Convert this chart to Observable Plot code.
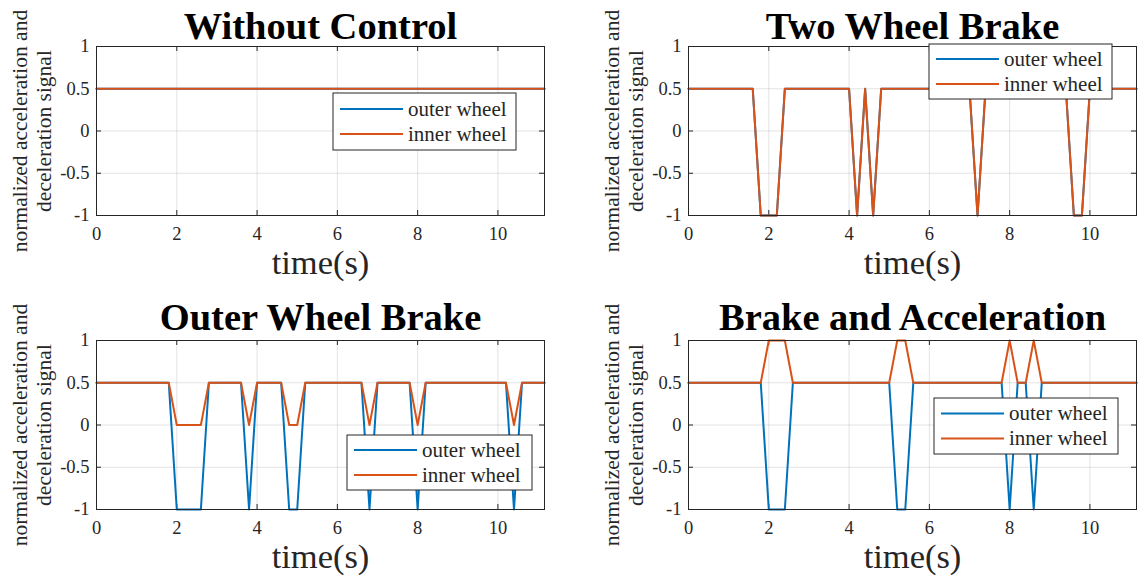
<!DOCTYPE html>
<html>
<head>
<meta charset="utf-8">
<script src="https://cdn.jsdelivr.net/npm/d3@7"></script>
<script src="https://cdn.jsdelivr.net/npm/@observablehq/plot@0.6"></script>
<style>
  html, body { margin: 0; padding: 0; background: #fff; }
  #chart { position: relative; width: 1144px; height: 585px; overflow: hidden; background: #fff; }
  .panel { position: absolute; }
  .panel svg { max-width: none !important; }
</style>
</head>
<body>
<div id="chart"></div>
<script>
// Wheel torque command signals (normalized), breakpoints of each piecewise-linear trace
const seriesNames = ["outer wheel", "inner wheel"];
const seriesColors = ["#0072BD", "#D95319"];
const xTicks = [0, 2, 4, 6, 8, 10];
const yTicks = [-1, -0.5, 0, 0.5, 1];
const tEnd = 11.16;

// Without Control
const tNone = [0, tEnd];
const outerNone = [0.5, 0.5];
const innerNone = [0.5, 0.5];

// Two Wheel Brake
const tTwo = [0, 1.6, 1.8, 2.2, 2.4, 4.0, 4.2, 4.4, 4.6, 4.8, 7.0, 7.2, 7.4, 9.4, 9.6, 9.8, 10.0, tEnd];
const outerTwo = [0.5, 0.5, -1, -1, 0.5, 0.5, -1, 0.5, -1, 0.5, 0.5, -1, 0.5, 0.5, -1, -1, 0.5, 0.5];
const innerTwo = [0.5, 0.5, -1, -1, 0.5, 0.5, -1, 0.5, -1, 0.5, 0.5, -1, 0.5, 0.5, -1, -1, 0.5, 0.5];

// Outer Wheel Brake
const tOuter = [0, 1.8, 2.0, 2.6, 2.8, 3.6, 3.8, 4.0, 4.6, 4.8, 5.0, 5.2, 6.6, 6.8, 7.0, 7.8, 8.0, 8.2, 10.2, 10.4, 10.6, tEnd];
const outerOuter = [0.5, 0.5, -1, -1, 0.5, 0.5, -1, 0.5, 0.5, -1, -1, 0.5, 0.5, -1, 0.5, 0.5, -1, 0.5, 0.5, -1, 0.5, 0.5];
const innerOuter = [0.5, 0.5, 0, 0, 0.5, 0.5, 0, 0.5, 0.5, 0, 0, 0.5, 0.5, 0, 0.5, 0.5, 0, 0.5, 0.5, 0, 0.5, 0.5];

// Brake and Acceleration
const tBoth = [0, 1.8, 2.0, 2.4, 2.6, 5.0, 5.2, 5.4, 5.6, 7.8, 8.0, 8.2, 8.4, 8.6, 8.8, tEnd];
const outerBoth = [0.5, 0.5, -1, -1, 0.5, 0.5, -1, -1, 0.5, 0.5, -1, 0.5, 0.5, -1, 0.5, 0.5];
const innerBoth = [0.5, 0.5, 1, 1, 0.5, 0.5, 1, 1, 0.5, 0.5, 1, 0.5, 0.5, 1, 0.5, 0.5];

const titles = ["Without Control", "Two Wheel Brake", "Outer Wheel Brake", "Brake and Acceleration"];
const xLabel = "time(s)";
const yLabel = "normalized acceleration and\ndeceleration signal";

const W = 552, H = 292;
const M = {top: 46, right: 8, bottom: 77, left: 96};
const frameW = W - M.left - M.right;
const frameH = H - M.top - M.bottom;
const axisColor = "#262626";
const font = "Liberation Serif, Times New Roman, serif";

const panels = [
  {title: titles[0], t: tNone, outer: outerNone, inner: innerNone, left: 0, top: 0, titleDy: -20, legend: [333, 93, 183, 57]},
  {title: titles[1], t: tTwo, outer: outerTwo, inner: innerTwo, left: 592, top: 0, titleDy: -20, legend: [337, 44, 183, 55]},
  {title: titles[2], t: tOuter, outer: outerOuter, inner: innerOuter, left: 0, top: 294, titleDy: -23, legend: [347, 141, 185, 55]},
  {title: titles[3], t: tBoth, outer: outerBoth, inner: innerBoth, left: 592, top: 294, titleDy: -23, legend: [342, 104, 184, 56]}
];

const chart = document.getElementById("chart");

for (const p of panels) {
  const outerRows = p.t.map((t, i) => ({t, v: p.outer[i]}));
  const innerRows = p.t.map((t, i) => ({t, v: p.inner[i]}));

  const svg = Plot.plot({
    width: W,
    height: H,
    marginTop: M.top,
    marginRight: M.right,
    marginBottom: M.bottom,
    marginLeft: M.left,
    style: {fontFamily: font, background: "#fff", color: axisColor},
    x: {domain: [0, tEnd]},
    y: {domain: [-1, 1]},
    marks: [
      // grid
      Plot.gridX(xTicks, {stroke: "#000", strokeOpacity: 0.11, strokeWidth: 1}),
      Plot.gridY(yTicks, {stroke: "#000", strokeOpacity: 0.11, strokeWidth: 1}),
      // tick labels
      Plot.axisX({ticks: xTicks, tickSize: 0, tickPadding: 11, fontSize: 18.5, label: null, tickFormat: d => String(d), fill: axisColor}),
      Plot.axisY({ticks: yTicks, tickSize: 0, tickPadding: 7, fontSize: 18.5, label: null, tickFormat: d => String(d), fill: axisColor}),
      // inward tick marks on all four sides
      Plot.tickX(xTicks, {x: d => d, stroke: axisColor, insetTop: frameH - 5}),
      Plot.tickX(xTicks, {x: d => d, stroke: axisColor, insetBottom: frameH - 5}),
      Plot.tickY(yTicks, {y: d => d, stroke: axisColor, insetRight: frameW - 5}),
      Plot.tickY(yTicks, {y: d => d, stroke: axisColor, insetLeft: frameW - 5}),
      // traces
      Plot.line(outerRows, {x: "t", y: "v", stroke: seriesColors[0], strokeWidth: 2}),
      Plot.line(innerRows, {x: "t", y: "v", stroke: seriesColors[1], strokeWidth: 2}),
      Plot.frame({stroke: axisColor, strokeWidth: 1}),
      // title and axis labels
      Plot.text([p.title], {text: d => d, frameAnchor: "top", dy: p.titleDy, lineAnchor: "middle", textAnchor: "middle", fontSize: 38.5, fontWeight: "bold", fill: "#000"}),
      Plot.text([xLabel], {text: d => d, frameAnchor: "bottom", dy: 47, lineAnchor: "middle", textAnchor: "middle", fontSize: 34.5, fill: axisColor}),
      Plot.text([yLabel], {text: d => d, frameAnchor: "left", dx: -65, rotate: -90, lineAnchor: "middle", textAnchor: "middle", lineHeight: 1.09, fontSize: 21.5, fill: axisColor})
    ]
  });

  // legend box
  const [lx, ly, lw, lh] = p.legend;
  const g = d3.select(svg).append("g").attr("transform", `translate(${lx},${ly})`);
  g.append("rect").attr("width", lw).attr("height", lh).attr("fill", "#fff").attr("stroke", axisColor).attr("stroke-width", 1);
  seriesNames.forEach((name, i) => {
    const y = lh / 2 - 12.5 + i * 25;
    g.append("line").attr("x1", 7).attr("x2", 70).attr("y1", y).attr("y2", y)
      .attr("stroke", seriesColors[i]).attr("stroke-width", 2);
    g.append("text").attr("x", 75).attr("y", y).attr("dy", "0.32em")
      .attr("text-anchor", "start")
      .attr("font-family", font).attr("font-size", 21).attr("fill", axisColor).text(name);
  });

  const holder = document.createElement("div");
  holder.className = "panel";
  holder.style.left = p.left + "px";
  holder.style.top = p.top + "px";
  holder.style.width = W + "px";
  holder.style.height = H + "px";
  holder.appendChild(svg);
  chart.appendChild(holder);
}
</script>
</body>
</html>
